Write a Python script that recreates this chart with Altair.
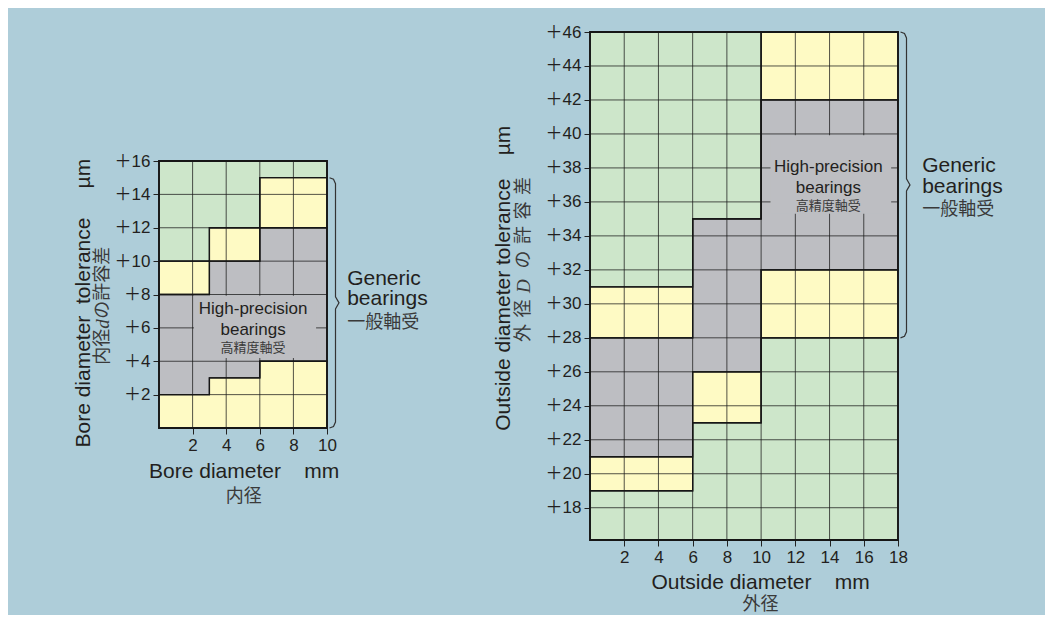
import altair as alt
import pandas as pd

# ---------------- data ----------------
# Bore diameter d (mm) vs tolerance (µm)
BORE_EDGES = [0, 3, 6, 10]
BORE_GEN_LO = [0, 0, 0]        # generic bearings, lower limit
BORE_PREC_LO = [2, 3, 4]       # high-precision bearings, lower limit
BORE_PREC_HI = [8, 10, 12]     # high-precision bearings, upper limit
BORE_GEN_HI = [10, 12, 15]     # generic bearings, upper limit
BORE_X_TICKS = [2, 4, 6, 8, 10]
BORE_Y_TICKS = [2, 4, 6, 8, 10, 12, 14, 16]

# Outside diameter D (mm) vs tolerance (µm)
OD_EDGES = [0, 6, 10, 18]
OD_GEN_LO = [19, 23, 28]
OD_PREC_LO = [21, 26, 32]
OD_PREC_HI = [28, 35, 42]
OD_GEN_HI = [31, 35, 46]
OD_X_TICKS = [2, 4, 6, 8, 10, 12, 14, 16, 18]
OD_Y_TICKS = [18, 20, 22, 24, 26, 28, 30, 32, 34, 36, 38, 40, 42, 44, 46]

# ---------------- style ----------------
BG = "#aecdd9"
GREEN = "#cde6ca"
YELLOW = "#fefac4"
GRAY = "#bdbec2"
INK = "#231f20"
INK_JP = "#3a3a3a"
EN_FONT = "Liberation Sans"
JP_FONT = "Noto Sans CJK JP"
BANDS = ["green_lo", "yellow_lo", "gray", "yellow_hi", "green_hi"]
BAND_COLORS = [GREEN, YELLOW, GRAY, YELLOW, GREEN]


def band_frame(edges, glo, plo, phi, ghi, ymin, ymax):
    n = len(glo)
    bounds = [[ymin] * n, glo, plo, phi, ghi, [ymax] * n]
    rows = []
    for b, name in enumerate(BANDS):
        lo, hi = bounds[b], bounds[b + 1]
        for i, x in enumerate(edges):
            j = min(i, n - 1)
            rows.append({"x": x, "band": name, "lo": lo[j], "hi": hi[j]})
    return pd.DataFrame(rows)


def panel(edges, glo, plo, phi, ghi, x_dom, y_dom, x_ticks, y_ticks,
          width, height, box, box_txt, gen_txt, xtitle, ytitle, jp_pieces):
    xs = alt.Scale(domain=x_dom, nice=False, zero=False)
    ys = alt.Scale(domain=y_dom, nice=False, zero=False)
    x_axis = alt.Axis(values=x_ticks, labelFlush=False, labelOverlap=False, title=None)
    y_axis = alt.Axis(values=y_ticks, labelFlush=False, labelOverlap=False, title=None,
                      labelExpr="'＋' + datum.label",
                      labelFont=EN_FONT + ", " + JP_FONT)

    def X(f):
        return alt.X(f, type="quantitative", scale=xs, axis=x_axis)

    def Y(f):
        return alt.Y(f, type="quantitative", scale=ys, axis=y_axis, stack=None)

    px_y = height / (y_dom[1] - y_dom[0])
    px_x = width / (x_dom[1] - x_dom[0])

    bands = band_frame(edges, glo, plo, phi, ghi, y_dom[0], y_dom[1])

    fills = alt.Chart(bands).mark_area(interpolate="step-after", strokeWidth=0).encode(
        x=X("x"), y=Y("lo"), y2="hi",
        color=alt.Color("band:N", scale=alt.Scale(domain=BANDS, range=BAND_COLORS), legend=None),
    )

    vg = pd.DataFrame({"gx": [t for t in x_ticks if x_dom[0] < t < x_dom[1]]})
    vg["y0"], vg["y1"] = y_dom[0], y_dom[1]
    hg = pd.DataFrame({"gy": [t for t in y_ticks if y_dom[0] < t < y_dom[1]]})
    hg["x0"], hg["x1"] = x_dom[0], x_dom[1]
    vgrid = alt.Chart(vg).mark_rule(color="#1a1a1a", strokeWidth=1, opacity=0.75).encode(
        x=X("gx"), y=Y("y0"), y2="y1")
    hgrid = alt.Chart(hg).mark_rule(color="#1a1a1a", strokeWidth=1, opacity=0.75).encode(
        y=Y("gy"), x=X("x0"), x2="x1")

    outlines = alt.Chart(bands).mark_area(
        interpolate="step-after", fill="transparent", stroke="#161616", strokeWidth=1.3
    ).encode(x=X("x"), y=Y("lo"), y2="hi", detail="band:N")

    bx = pd.DataFrame([box])
    boxmark = alt.Chart(bx).mark_rect(color=GRAY).encode(
        x=X("x0"), x2="x1", y=Y("y0"), y2="y1")

    fr = pd.DataFrame([{"x0": x_dom[0], "x1": x_dom[1], "y0": y_dom[0], "y1": y_dom[1]}])
    frame = alt.Chart(fr).mark_rect(fill="transparent", stroke="#161616", strokeWidth=1.8).encode(
        x=X("x0"), x2="x1", y=Y("y0"), y2="y1")

    # curly bracket spanning the generic-bearing range of the last size step
    lo, hi = glo[-1], ghi[-1]
    mid = (lo + hi) / 2
    x0 = x_dom[1] + 2.5 / px_x
    x1 = x_dom[1] + 8.5 / px_x
    x2 = x_dom[1] + 12 / px_x
    c = 6 / px_y
    s = 2 / px_x
    br = pd.DataFrame({
        "bx": [x0, x1 - s, x1, x1, x2, x1, x1, x1 - s, x0],
        "by": [lo, lo + c * 0.25, lo + c, mid - c, mid, mid + c, hi - c, hi - c * 0.25, hi],
        "o": list(range(9)),
    })
    bracket = alt.Chart(br).mark_line(color="#333333", strokeWidth=1.2).encode(
        x=X("bx"), y=Y("by"), order="o:Q")

    def txt(rows, **kw):
        df = pd.DataFrame(rows, columns=["t", "x", "y"])
        return alt.Chart(df).mark_text(**kw).encode(x=X("x"), y=Y("y"), text="t:N")

    layers = [fills, vgrid, hgrid, outlines, boxmark, frame, bracket,
              txt(box_txt[0], font=EN_FONT, fontSize=17, color=INK, align="center",
                  baseline="alphabetic", lineBreak="\n", lineHeight=21),
              txt(box_txt[1], font=JP_FONT, fontSize=13, color=INK_JP, align="center", baseline="middle"),
              txt(gen_txt[0], font=EN_FONT, fontSize=21, color=INK, align="left",
                  baseline="alphabetic", lineBreak="\n", lineHeight=20.5),
              txt(gen_txt[1], font=JP_FONT, fontSize=18, color=INK_JP, align="left", baseline="middle"),
              txt(xtitle[0], font=EN_FONT, fontSize=21, color=INK, align="center", baseline="alphabetic"),
              txt(xtitle[1], font=JP_FONT, fontSize=18, color=INK_JP, align="center", baseline="middle"),
              txt(ytitle, font=EN_FONT, fontSize=21, color=INK, align="center", baseline="middle", angle=270),
              ]
    # second title line: kanji + italic latin + kana/kanji, laid upward
    (jx, jy_center, jsize, pieces) = jp_pieces
    total = sum(w for _, w, _ in pieces)
    pos = jy_center - total / 2 / px_y
    for t, w, italic in pieces:
        if italic:
            layers.append(txt([(t, jx, pos)], font="Liberation Serif", fontStyle="italic",
                              fontSize=jsize + 1, color=INK_JP, align="left", baseline="middle", angle=270))
        else:
            layers.append(txt([(t, jx, pos)], font=JP_FONT, fontSize=jsize,
                              color=INK_JP, align="left", baseline="middle", angle=270))
        pos += w / px_y
    return alt.layer(*layers).properties(width=width, height=height)


NB = "\u00a0"

left = panel(
    BORE_EDGES, BORE_GEN_LO, BORE_PREC_LO, BORE_PREC_HI, BORE_GEN_HI,
    [0, 10], [0, 16], BORE_X_TICKS, BORE_Y_TICKS, 168, 267,
    {"x0": 2.08, "x1": 9.35, "y0": 4.2, "y1": 7.93},
    ([("High-precision\nbearings", 5.6, 6.82)], [("高精度軸受", 5.6, 4.78)]),
    ([("Generic\nbearings", 11.2, 8.59)], [("一般軸受", 11.2, 6.3)]),
    ([("Bore diameter" + NB * 4 + "mm", 5.07, -3.0)], [("内径", 5.05, -4.15)]),
    [("Bore diameter" + NB * 2 + "tolerance" + NB * 5 + "µm", -4.45, 7.48)],
    (-3.33, 7.32, 18, [("内径", 36, False), ("d", 10, True), ("の許容差", 72, False)]),
)

right = panel(
    OD_EDGES, OD_GEN_LO, OD_PREC_LO, OD_PREC_HI, OD_GEN_HI,
    [0, 18], [16.1, 46], OD_X_TICKS, OD_Y_TICKS, 308, 508,
    {"x0": 10.55, "x1": 17.6, "y0": 35.3, "y1": 39.93},
    ([("High-precision\nbearings", 13.93, 37.75)], [("高精度軸受", 13.93, 35.74)]),
    ([("Generic\nbearings", 19.41, 37.75)], [("一般軸受", 19.41, 35.5)]),
    ([("Outside diameter" + NB * 4 + "mm", 9.97, 13.19)], [("外径", 9.97, 12.3)]),
    [("Outside diameter tolerance" + NB * 4 + "µm", -5.03, 31.51)],
    (-3.86, 32.8, 18, [("外", 24.5, False), ("径", 24.5, False), ("D", 24.5, True), ("の", 24.5, False),
                       ("許", 24.5, False), ("容", 24.5, False), ("差", 24.5, False)]),
)

spacer = alt.Chart(pd.DataFrame({"v": [0]})).mark_point(opacity=0).encode(
    x=alt.value(0), y=alt.value(0)).properties(width=10, height=118)

chart = alt.hconcat(
    alt.vconcat(spacer, left, spacing=0), right, spacing=63
).properties(
    background=BG,
    padding={"left": 64, "top": 14, "right": 41, "bottom": 0},
).configure_view(stroke="transparent").configure_axis(
    domain=False, grid=False, ticks=True, tickSize=6, tickWidth=1, tickColor="#222222",
    labelFont=EN_FONT, labelFontSize=17, labelColor=INK, labelPadding=3,
)

chart.save("out.html", embed_options={"renderer": "svg", "actions": False})
